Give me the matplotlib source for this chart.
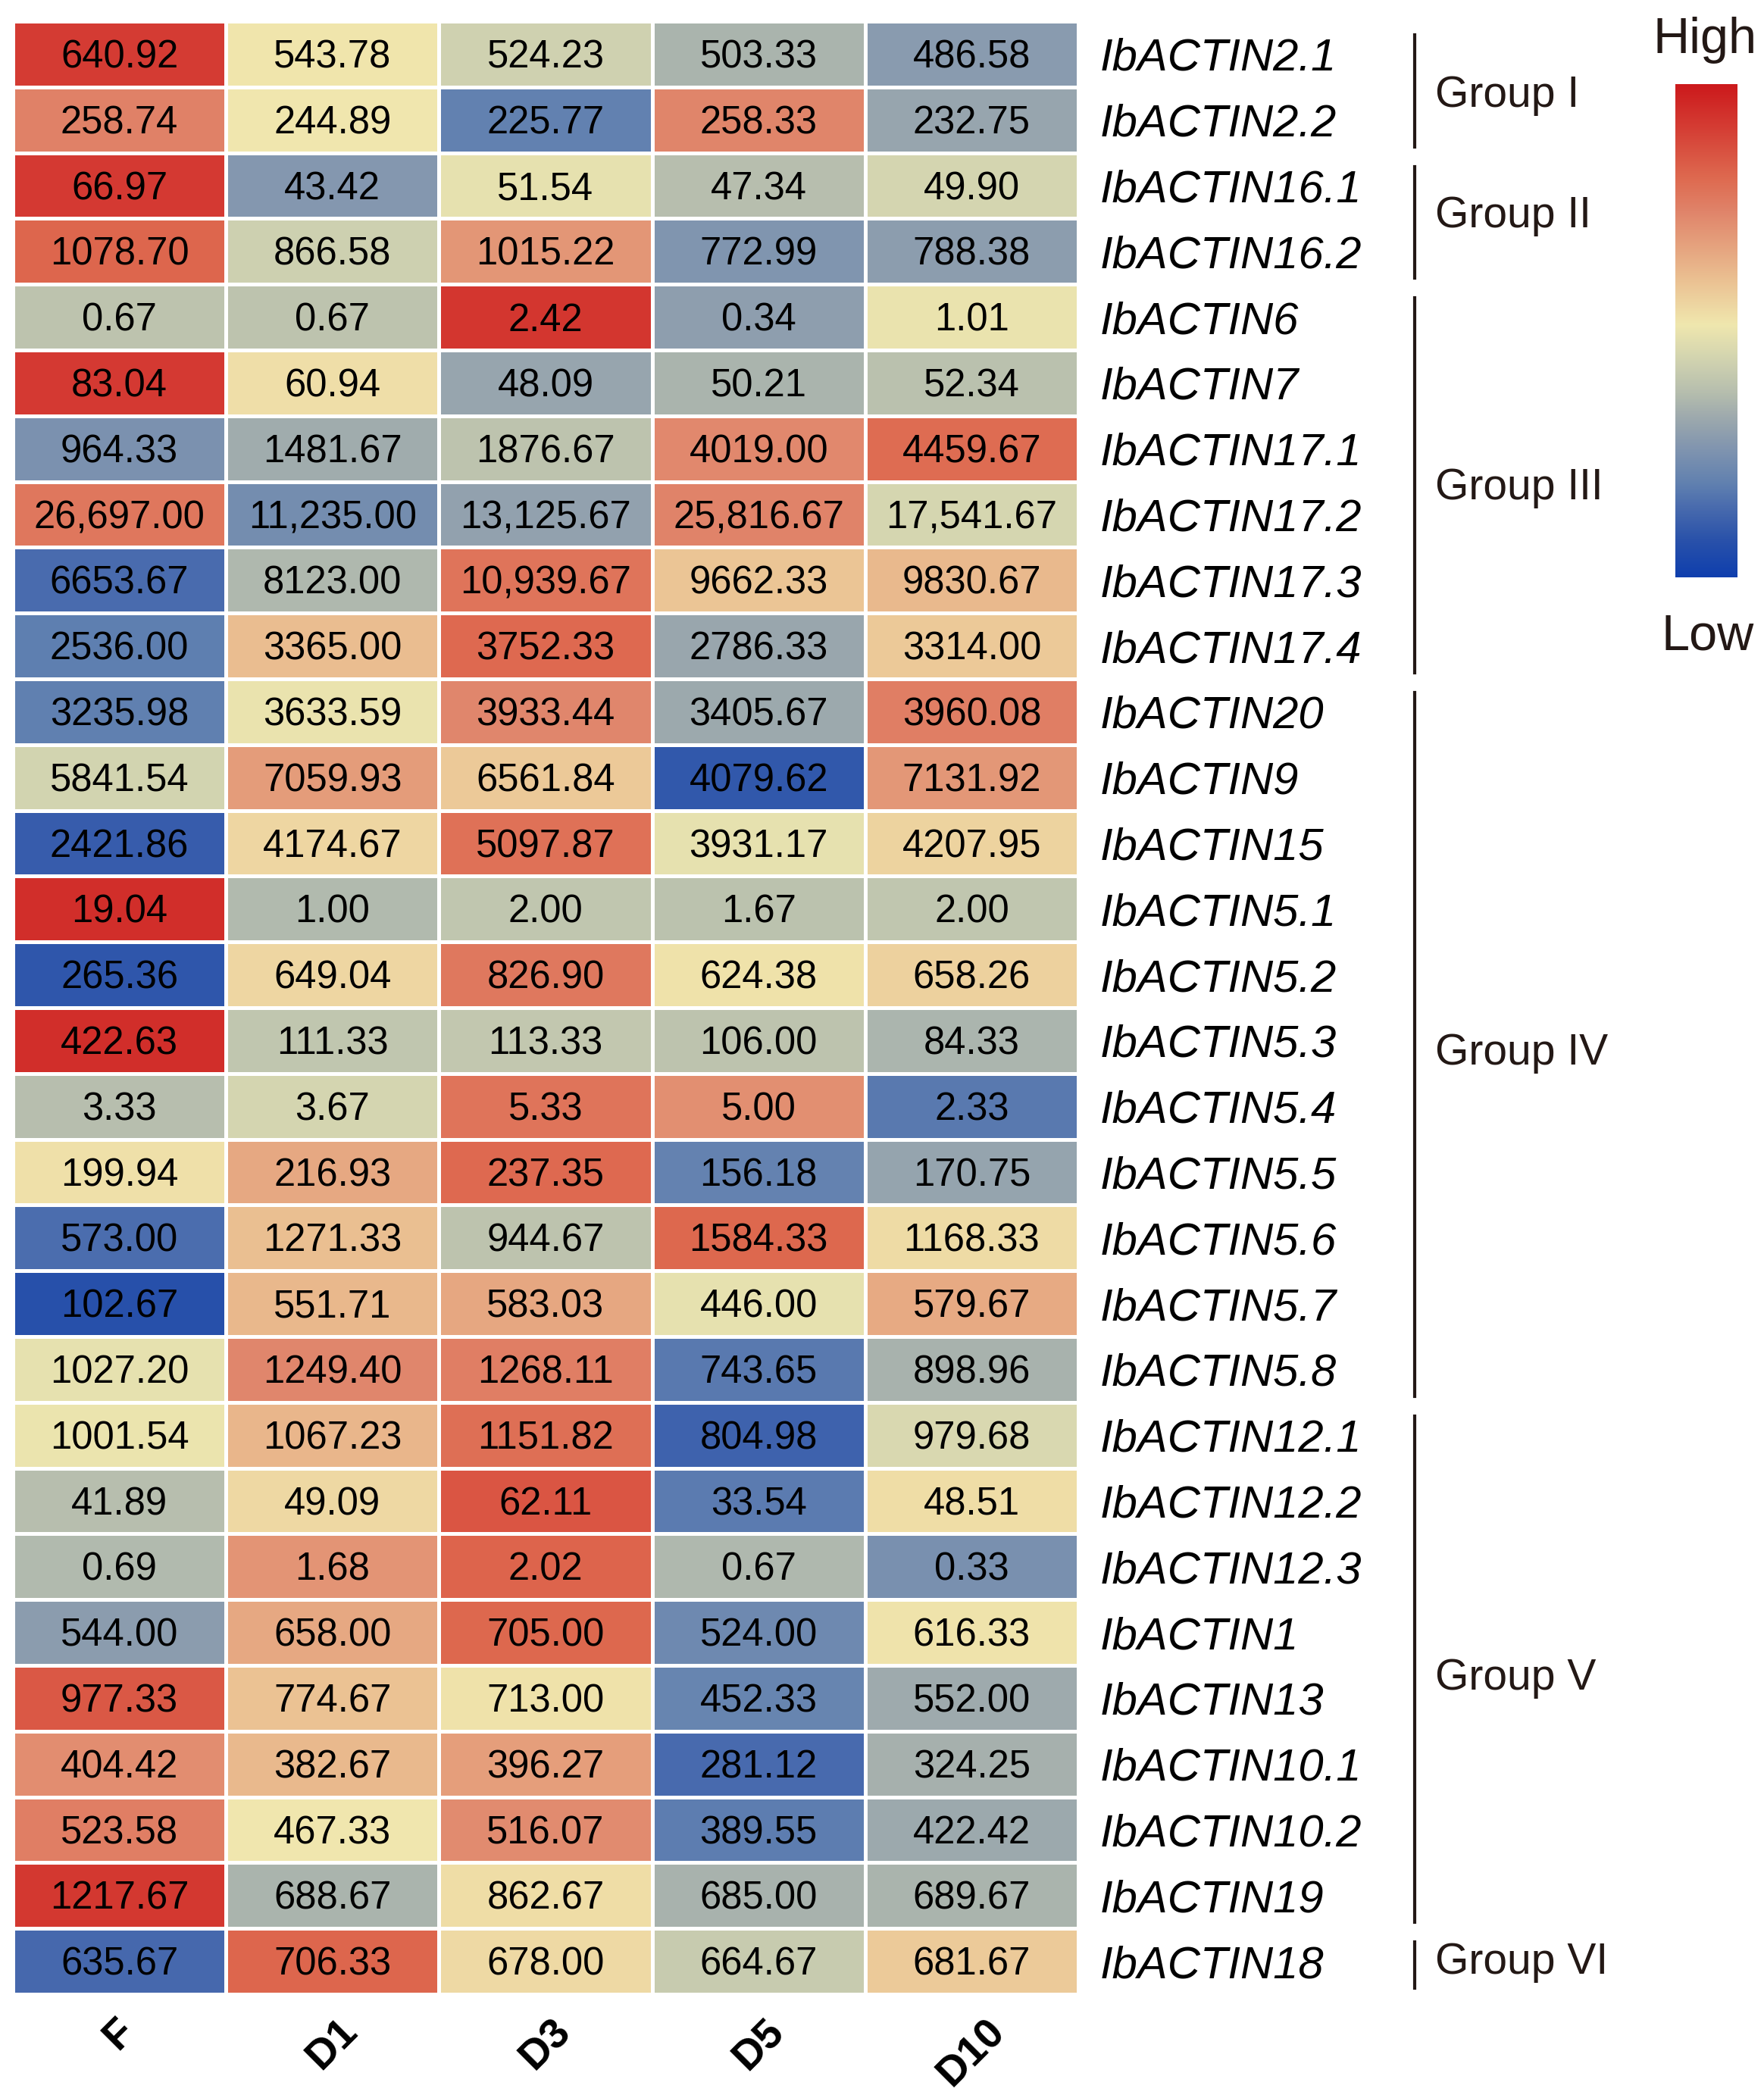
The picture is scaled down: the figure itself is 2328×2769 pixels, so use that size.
import numpy as np
import matplotlib
matplotlib.use('Agg')
import matplotlib.pyplot as plt
from matplotlib.colors import LinearSegmentedColormap

plt.rcParams['font.family'] = ['Liberation Sans', 'DejaVu Sans']

genes = ['IbACTIN2.1', 'IbACTIN2.2', 'IbACTIN16.1', 'IbACTIN16.2', 'IbACTIN6',
         'IbACTIN7', 'IbACTIN17.1', 'IbACTIN17.2', 'IbACTIN17.3', 'IbACTIN17.4',
         'IbACTIN20', 'IbACTIN9', 'IbACTIN15', 'IbACTIN5.1', 'IbACTIN5.2',
         'IbACTIN5.3', 'IbACTIN5.4', 'IbACTIN5.5', 'IbACTIN5.6', 'IbACTIN5.7',
         'IbACTIN5.8', 'IbACTIN12.1', 'IbACTIN12.2', 'IbACTIN12.3', 'IbACTIN1',
         'IbACTIN13', 'IbACTIN10.1', 'IbACTIN10.2', 'IbACTIN19', 'IbACTIN18']
samples = ['F', 'D1', 'D3', 'D5', 'D10']

F = [640.92, 258.74, 66.97, 1078.70, 0.67, 83.04, 964.33, 26697.00, 6653.67, 2536.00,
     3235.98, 5841.54, 2421.86, 19.04, 265.36, 422.63, 3.33, 199.94, 573.00, 102.67,
     1027.20, 1001.54, 41.89, 0.69, 544.00, 977.33, 404.42, 523.58, 1217.67, 635.67]
D1 = [543.78, 244.89, 43.42, 866.58, 0.67, 60.94, 1481.67, 11235.00, 8123.00, 3365.00,
      3633.59, 7059.93, 4174.67, 1.00, 649.04, 111.33, 3.67, 216.93, 1271.33, 551.71,
      1249.40, 1067.23, 49.09, 1.68, 658.00, 774.67, 382.67, 467.33, 688.67, 706.33]
D3 = [524.23, 225.77, 51.54, 1015.22, 2.42, 48.09, 1876.67, 13125.67, 10939.67, 3752.33,
      3933.44, 6561.84, 5097.87, 2.00, 826.90, 113.33, 5.33, 237.35, 944.67, 583.03,
      1268.11, 1151.82, 62.11, 2.02, 705.00, 713.00, 396.27, 516.07, 862.67, 678.00]
D5 = [503.33, 258.33, 47.34, 772.99, 0.34, 50.21, 4019.00, 25816.67, 9662.33, 2786.33,
      3405.67, 4079.62, 3931.17, 1.67, 624.38, 106.00, 5.00, 156.18, 1584.33, 446.00,
      743.65, 804.98, 33.54, 0.67, 524.00, 452.33, 281.12, 389.55, 685.00, 664.67]
D10 = [486.58, 232.75, 49.90, 788.38, 1.01, 52.34, 4459.67, 17541.67, 9830.67, 3314.00,
       3960.08, 7131.92, 4207.95, 2.00, 658.26, 84.33, 2.33, 170.75, 1168.33, 579.67,
       898.96, 979.68, 48.51, 0.33, 616.33, 552.00, 324.25, 422.42, 689.67, 681.67]

group_names = ['Group I', 'Group II', 'Group III', 'Group IV', 'Group V', 'Group VI']
group_sizes = [2, 2, 6, 11, 8, 1]
group_label_shift = [0, -14, -3, 6, 6, -10]   # pixel nudges of the group labels

W, H = 2328, 2769
fig = plt.figure(figsize=(W / 100, H / 100), dpi=100)
fig.patch.set_facecolor('white')

def fx(x):
    return x / W

def fy(y):
    return 1 - y / H

cmap = LinearSegmentedColormap.from_list('hm', [
    (0.000, '#0F3FAE'), (0.075, '#2A52AA'), (0.1425, '#4A6CAE'), (0.1875, '#6080B0'),
    (0.2675, '#8497AF'), (0.325, '#9EAAAD'), (0.375, '#B6BEAE'), (0.45, '#D5D6B0'),
    (0.5125, '#F0E7AE'), (0.60, '#EBC293'), (0.7425, '#E0846A'), (0.81, '#DE6A50'),
    (0.92, '#D43A32'), (1.000, '#CC1A1C')])

data = np.array([F, D1, D3, D5, D10]).T
mean = data.mean(axis=1, keepdims=True)
sd = data.std(axis=1, ddof=1, keepdims=True)
z = (data - mean) / sd

nrow, ncol = data.shape
left, right, top, bottom = 17, 1423, 28, 2632
rowh = (bottom - top) / nrow

ax = fig.add_axes([fx(left), fy(bottom), fx(right - left), (bottom - top) / H])
ax.pcolormesh(np.arange(ncol + 1), np.arange(nrow + 1), z, cmap=cmap, vmin=-2, vmax=2,
              edgecolors='white', linewidth=3.6)
ax.set_xlim(0, ncol)
ax.set_ylim(nrow, 0)
ax.axis('off')

def fmt(v):
    return '{:,.2f}'.format(v) if v >= 10000 else '{:.2f}'.format(v)

for i in range(nrow):
    for j in range(ncol):
        ax.text(j + 0.5, i + 0.5 + 18 / rowh, fmt(data[i, j]), ha='center', va='baseline',
                fontsize=36.5, color='black')

# gene labels
for i, g in enumerate(genes):
    yc = top + rowh * (i + 0.5)
    fig.text(fx(1452), fy(yc + 21.5), g, ha='left', va='baseline', fontsize=43,
             style='italic', color='black')

# column labels
colw = (right - left) / ncol
for j, s in enumerate(samples):
    fig.text(fx(left + colw * (j + 0.5)), fy(2655), s, ha='center', va='top', fontsize=40,
             fontweight='bold', rotation=45, color='black')

# group brackets
start = 0
dark = '#231815'
for name, n, dy in zip(group_names, group_sizes, group_label_shift):
    y0 = top + rowh * start + 18
    y1 = top + rowh * (start + n) - 8
    fig.add_artist(plt.Line2D([fx(1867), fx(1867)], [fy(y0), fy(y1)], color=dark, lw=3.0))
    yc = top + rowh * (start + n / 2)
    fig.text(fx(1894), fy(yc + 26 + dy), name, ha='left', va='baseline', fontsize=41, color=dark)
    start += n

# colorbar
cax = fig.add_axes([fx(2211), fy(762), fx(82), (762 - 111) / H])
grad = np.linspace(1, 0, 256).reshape(-1, 1)
cax.imshow(grad, cmap=cmap, vmin=0, vmax=1, aspect='auto', extent=(0, 1, 0, 1))
cax.axis('off')
fig.text(fx(2250), fy(70), 'High', ha='center', va='baseline', fontsize=48, color=dark)
fig.text(fx(2254), fy(858), 'Low', ha='center', va='baseline', fontsize=48, color=dark)

fig.savefig('out.png', dpi=100, facecolor='white')
